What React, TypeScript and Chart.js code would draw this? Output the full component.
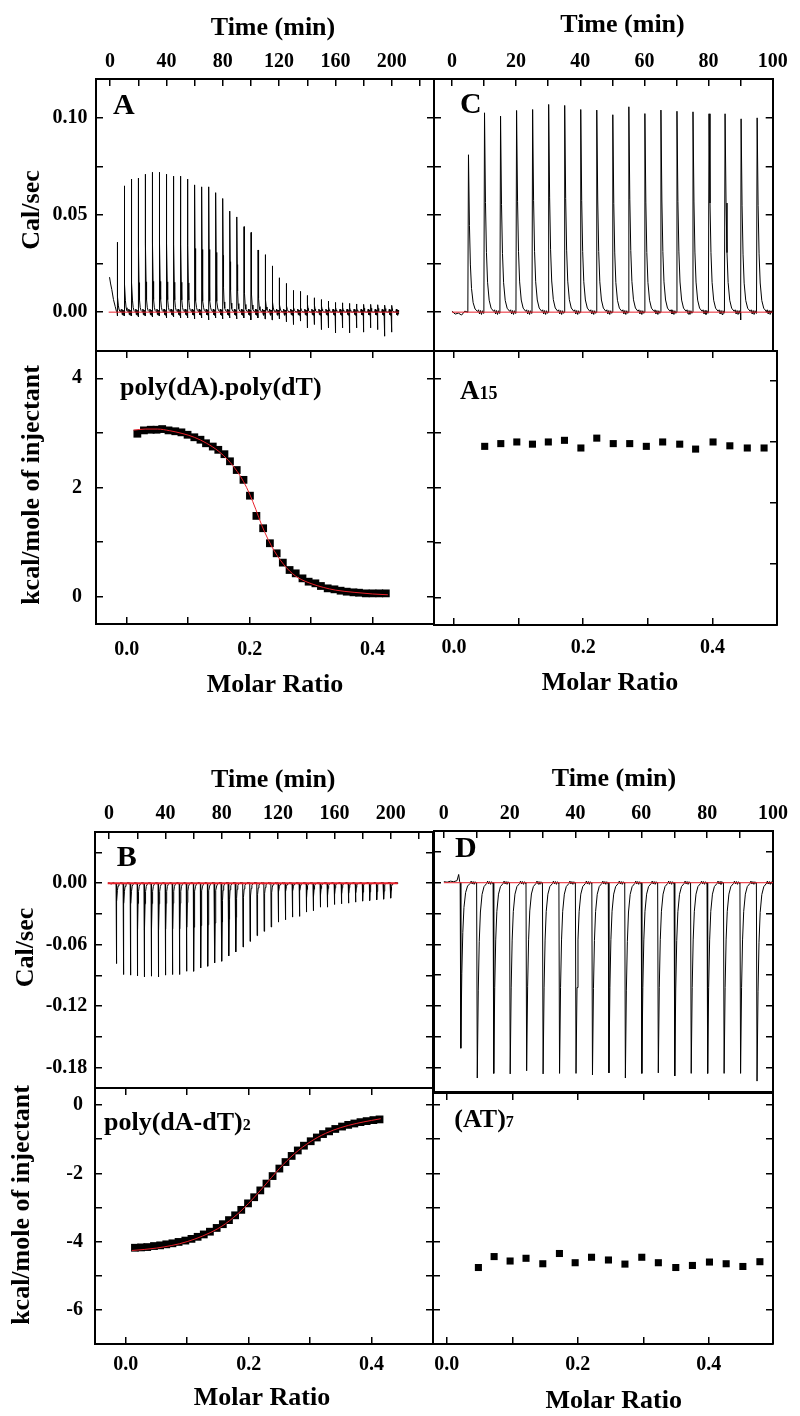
import React, { useEffect, useRef } from 'react';
import { Chart, registerables } from 'chart.js';

Chart.register(...registerables);

const FONT = '"Liberation Serif", "Times New Roman", Times, serif';
Chart.defaults.font.family = FONT;

// ---------------- Raw thermograms (upper panels) ----------------
const A_INJ_T = [5, 10, 15, 20, 25, 30, 35, 40, 45, 50, 55, 60, 65, 70, 75, 80, 85, 90, 95, 100, 105, 110, 115, 120, 125, 130, 135, 140, 145, 150, 155, 160, 165, 170, 175, 180, 185, 190, 195, 200];
const A_PEAKS = [0.036, 0.065, 0.0685, 0.069, 0.071, 0.072, 0.072, 0.071, 0.070, 0.070, 0.0685, 0.0655, 0.0645, 0.0645, 0.0615, 0.0585, 0.052, 0.049, 0.044, 0.041, 0.032, 0.0296, 0.0238, 0.0177, 0.0148, 0.0112, 0.0107, 0.0086, 0.0074, 0.0065, 0.0057, 0.005, 0.0048, 0.0045, 0.0042, 0.004, 0.004, 0.0038, 0.0036, 0.0035];
const A_DIPS = [-0.002, -0.002, -0.002, -0.0025, -0.002, -0.0025, -0.002, -0.003, -0.0025, -0.003, -0.003, -0.0035, -0.003, -0.004, -0.003, -0.0035, -0.003, -0.0035, -0.003, -0.004, -0.003, -0.0035, -0.004, -0.0035, -0.005, -0.0064, -0.0046, -0.0081, -0.0064, -0.009, -0.0081, -0.0107, -0.0081, -0.0107, -0.0081, -0.0103, -0.0081, -0.009, -0.0124, -0.0103];
const A_LEAD: [number, number][] = [[-0.4, 0.018], [0.4, 0.0145], [1.2, 0.0117], [2.4, 0.0065], [3.6, 0.003], [4.5, 0.0005]];
const A_BASE_T = [-1, 205];

const B_INJ_T = [5, 10, 15, 20, 25, 30, 35, 40, 45, 50, 55, 60, 65, 70, 75, 80, 85, 90, 95, 100, 105, 110, 115, 120, 125, 130, 135, 140, 145, 150, 155, 160, 165, 170, 175, 180, 185, 190, 195, 200];
const B_PEAKS = [-0.0785, -0.0892, -0.0898, -0.0905, -0.0915, -0.0908, -0.0915, -0.0898, -0.0892, -0.0892, -0.086, -0.086, -0.0827, -0.0811, -0.0778, -0.0762, -0.071, -0.0671, -0.0623, -0.0568, -0.0512, -0.047, -0.0428, -0.038, -0.0357, -0.0331, -0.0324, -0.0282, -0.0269, -0.0234, -0.0234, -0.0208, -0.0201, -0.0195, -0.0185, -0.0175, -0.0169, -0.0162, -0.0156, -0.0146];
const B_LEAD: [number, number][] = [[-0.5, 0.0005], [1.5, -0.0008], [3, 0.0006], [4.5, -0.0005]];
const B_BASE_T = [-1, 205];

const C_INJ_T = [5, 10, 15, 20, 25, 30, 35, 40, 45, 50, 55, 60, 65, 70, 75, 80, 85, 90, 95];
const C_PEAKS = [0.081, 0.1026, 0.1009, 0.1038, 0.1043, 0.1069, 0.1064, 0.1043, 0.104, 0.1016, 0.1057, 0.1022, 0.104, 0.1034, 0.1031, 0.1021, 0.1021, 0.0995, 0.1];
const C_DIPS = [0, 0, 0, 0, 0, 0, 0, 0, 0, 0, 0, 0, 0, 0, 0, 0, 0, -0.004, 0];
const C_LEAD: [number, number][] = [[0, 0.0005], [1, -0.001], [2, -0.0005], [3, -0.0015], [4, 0.0005]];
const C_BASE_T = [0, 100];

const D_INJ_T = [5, 10, 15, 20, 25, 30, 35, 40, 45, 50, 55, 60, 65, 70, 75, 80, 85, 90, 95];
const D_PEAKS = [-0.161, -0.190, -0.1855, -0.186, -0.183, -0.186, -0.1855, -0.1855, -0.187, -0.185, -0.19, -0.1855, -0.185, -0.188, -0.1855, -0.1855, -0.1855, -0.1855, -0.193];
const D_LEAD: [number, number][] = [[0, 0.001], [1, 0.0005], [2, 0.0015], [3, 0.001], [4, 0.002], [4.5, 0.008], [4.8, 0.001]];
const D_BASE_T = [0, 100];

// peak outlines relative to injection time (minutes, fraction of peak height)
const PEAK_SHAPE_LONG: [number, number][] = [[0.1, 1], [0.3, 0.5], [0.55, 0.22], [0.9, 0.09], [1.4, 0.035], [2.0, 0.012], [2.8, 0.003]];
const PEAK_SHAPE_SHORT: [number, number][] = [[0.15, 1], [0.45, 0.55], [0.75, 0.3], [1.1, 0.15], [1.6, 0.06], [2.2, 0.02], [3.0, 0.004]];
const NOISE_SHAPE: [number, number][] = [[3.3, 1], [3.6, -0.8], [3.9, 0.7], [4.2, -1], [4.5, 0.6], [4.8, -0.5]];

// ---------------- Integrated isotherms (lower panels) ----------------
const A_ISO_X = [0.0173, 0.028, 0.039, 0.0485, 0.0577, 0.068, 0.079, 0.089, 0.099, 0.11, 0.12, 0.129, 0.14, 0.149, 0.159, 0.168, 0.179, 0.19, 0.2005, 0.211, 0.222, 0.233, 0.244, 0.254, 0.265, 0.275, 0.286, 0.296, 0.307, 0.316, 0.327, 0.338, 0.348, 0.358, 0.369, 0.378, 0.389, 0.4, 0.411, 0.4216];
const A_ISO_Y = [2.985, 3.046, 3.058, 3.058, 3.07, 3.046, 3.03, 3.01, 2.966, 2.92, 2.875, 2.81, 2.75, 2.69, 2.61, 2.48, 2.32, 2.14, 1.85, 1.48, 1.254, 0.979, 0.795, 0.624, 0.489, 0.428, 0.336, 0.275, 0.245, 0.196, 0.153, 0.135, 0.11, 0.092, 0.08, 0.073, 0.061, 0.061, 0.061, 0.061];
const A_FIT_X = [0.011, 0.03, 0.05, 0.07, 0.09, 0.11, 0.13, 0.15, 0.165, 0.18, 0.19, 0.2, 0.21, 0.22, 0.23, 0.24, 0.25, 0.26, 0.27, 0.28, 0.3, 0.32, 0.34, 0.37, 0.4, 0.425];
const A_FIT_Y = [3.05, 3.07, 3.07, 3.04, 2.99, 2.92, 2.81, 2.66, 2.5, 2.29, 2.11, 1.88, 1.6, 1.3, 1.05, 0.84, 0.67, 0.53, 0.42, 0.34, 0.24, 0.17, 0.12, 0.08, 0.05, 0.035];

const B_ISO_X = [0.015, 0.025, 0.035, 0.046, 0.056, 0.066, 0.076, 0.086, 0.097, 0.107, 0.117, 0.127, 0.137, 0.148, 0.158, 0.168, 0.178, 0.188, 0.199, 0.209, 0.219, 0.229, 0.239, 0.25, 0.26, 0.27, 0.28, 0.29, 0.301, 0.311, 0.321, 0.331, 0.341, 0.352, 0.362, 0.372, 0.382, 0.392, 0.403, 0.413];
const B_ISO_Y = [-4.18, -4.17, -4.16, -4.13, -4.11, -4.08, -4.05, -4.01, -3.97, -3.92, -3.86, -3.79, -3.71, -3.6, -3.49, -3.37, -3.23, -3.07, -2.88, -2.7, -2.5, -2.3, -2.08, -1.86, -1.67, -1.49, -1.33, -1.19, -1.06, -0.95, -0.85, -0.77, -0.7, -0.63, -0.58, -0.54, -0.5, -0.47, -0.44, -0.42];
const B_FIT_X = [0.01, 0.05, 0.1, 0.15, 0.175, 0.2, 0.225, 0.25, 0.275, 0.3, 0.325, 0.35, 0.375, 0.4, 0.415];
const B_FIT_Y = [-4.26, -4.19, -4.0, -3.62, -3.3, -2.88, -2.38, -1.86, -1.42, -1.08, -0.83, -0.66, -0.54, -0.45, -0.4];

const C_ISO_X = [0.0475, 0.0724, 0.0972, 0.1214, 0.146, 0.171, 0.1964, 0.221, 0.2465, 0.272, 0.2977, 0.323, 0.3494, 0.374, 0.401, 0.427, 0.454, 0.48];
const C_ISO_Y = [2.76, 2.81, 2.84, 2.8, 2.84, 2.87, 2.73, 2.91, 2.81, 2.81, 2.76, 2.84, 2.8, 2.71, 2.84, 2.77, 2.73, 2.73];

const D_ISO_X = [0.0483, 0.0723, 0.0967, 0.121, 0.1466, 0.172, 0.196, 0.221, 0.2468, 0.272, 0.2977, 0.323, 0.3496, 0.375, 0.401, 0.4265, 0.452, 0.478];
const D_ISO_Y = [-4.76, -4.44, -4.57, -4.49, -4.65, -4.35, -4.62, -4.46, -4.54, -4.66, -4.46, -4.62, -4.76, -4.7, -4.6, -4.65, -4.73, -4.59];

// ---------------- Ticks ----------------
const TIME200_TICKS = [0, 20, 40, 60, 80, 100, 120, 140, 160, 180, 200, 220];
const TIME200_LABELS = ['0', '', '40', '', '80', '', '120', '', '160', '', '200', ''];
const TIME100_TICKS = [0, 10, 20, 30, 40, 50, 60, 70, 80, 90, 100];
const TIME100_LABELS = ['0', '', '20', '', '40', '', '60', '', '80', '', '100'];
const CAL_POS_TICKS = [0, 0.025, 0.05, 0.075, 0.1];
const CAL_POS_LABELS = ['0.00', '', '0.05', '', '0.10'];
const CAL_NEG_TICKS = [-0.18, -0.15, -0.12, -0.09, -0.06, -0.03, 0, 0.03];
const CAL_NEG_LABELS = ['-0.18', '', '-0.12', '', '-0.06', '', '0.00', ''];
const MR_TICKS = [0, 0.1, 0.2, 0.3, 0.4];
const MR_TICKS_EDGE = [0, 0.1, 0.2, 0.3, 0.4, 0.5];
const MR_LABELS = ['0.0', '', '0.2', '', '0.4', ''];
const KCAL_POS_TICKS = [0, 1, 2, 3, 4];
const KCAL_POS_LABELS = ['0', '', '2', '', '4'];
const KCAL_NEG_TICKS = [-6, -5, -4, -3, -2, -1, 0];
const KCAL_NEG_LABELS = ['-6', '', '-4', '', '-2', '', '0'];
const C_RIGHT_TICKS = [1, 2, 3, 4];

// ---------------- helpers ----------------
type Pt = { x: number; y: number };
const zip = (xs: number[], ys: number[]): Pt[] => xs.map((x, i) => ({ x, y: ys[i] }));

function buildTrace(times: number[], peaks: number[], dips: number[] | null, amp: number, lead: [number, number][], tEnd: number, shape: [number, number][]): Pt[] {
  const pts: Pt[] = lead.map(([x, y]) => ({ x, y }));
  times.forEach((t, i) => {
    pts.push({ x: t - 0.05, y: 0 });
    if (dips && dips[i]) pts.push({ x: t, y: dips[i] });
    shape.forEach(([dt, f]) => pts.push({ x: t + dt, y: peaks[i] * f }));
    NOISE_SHAPE.forEach(([dt, f]) => pts.push({ x: t + dt, y: amp * f }));
  });
  pts.push({ x: tEnd, y: 0 });
  return pts;
}

const TICK_FONT = { family: FONT, size: 20, weight: 'bold' as const };
const W = 800;
const H = 1416;

type AxisSpec = { min: number; max: number; ticks: number[]; labels?: string[]; pad?: number };

// size = distance from the plot edge to the canvas edge on that side
function scale(axis: 'x' | 'y', position: string, a: AxisSpec, size: number) {
  const horiz = position === 'top' || position === 'bottom';
  return {
    type: 'linear',
    axis,
    position,
    min: a.min,
    max: a.max,
    bounds: 'data',
    display: true,
    afterBuildTicks: (s: any) => {
      s.ticks = a.ticks.map((v) => ({ value: v }));
    },
    afterFit: (s: any) => {
      if (horiz) s.height = size;
      else s.width = size;
    },
    grid: { display: a.ticks.length > 0, drawOnChartArea: false, drawTicks: true, tickLength: -7, color: '#000', lineWidth: 1.5 },
    border: { display: true, color: '#000', width: 2 },
    ticks: {
      display: !!a.labels,
      autoSkip: false,
      maxRotation: 0,
      minRotation: 0,
      padding: a.pad ?? 10,
      color: '#000',
      font: TICK_FONT,
      callback: (_v: any, i: number) => (a.labels ? a.labels[i] ?? '' : ''),
    },
    title: { display: false },
  };
}

type TextItem = { x: number; y: number; parts: [string, number][]; align?: 'left' | 'center'; rot?: number };

function makeTextPlugin(items: TextItem[]) {
  return {
    id: 'panelText',
    afterDraw(chart: any) {
      const ctx = chart.ctx as CanvasRenderingContext2D;
      items.forEach((it) => {
        ctx.save();
        ctx.fillStyle = '#000';
        ctx.textBaseline = 'alphabetic';
        ctx.textAlign = 'left';
        const widths = it.parts.map(([t, s]) => {
          ctx.font = `bold ${s}px ${FONT}`;
          return ctx.measureText(t).width;
        });
        const total = widths.reduce((a, b) => a + b, 0);
        ctx.translate(it.x, it.y);
        if (it.rot) ctx.rotate((it.rot * Math.PI) / 180);
        let x = it.align === 'center' ? -total / 2 : 0;
        it.parts.forEach(([t, s], i) => {
          ctx.font = `bold ${s}px ${FONT}`;
          ctx.fillText(t, x, 0);
          x += widths[i];
        });
        ctx.restore();
      });
    },
  };
}

const traceDs = (data: Pt[]) => ({ data, showLine: true, borderColor: '#000', borderWidth: 1, pointRadius: 0, tension: 0 });
const redLine = (ts: number[], w: number) => ({ data: ts.map((x) => ({ x, y: 0 })), showLine: true, borderColor: '#e8202a', borderWidth: w, pointRadius: 0 });
const fitDs = (data: Pt[]) => ({ data, showLine: true, borderColor: '#e8202a', borderWidth: 1, pointRadius: 0, cubicInterpolationMode: 'monotone' });
const squaresDs = (data: Pt[], r: number) => ({ data, showLine: false, pointStyle: 'rect', pointRadius: r, pointBackgroundColor: '#000', pointBorderColor: '#000', pointBorderWidth: 0 });

type Panel = {
  box: [number, number, number, number];
  upper: boolean;
  x: AxisSpec;
  x2: AxisSpec;
  y: AxisSpec;
  y2: AxisSpec;
  datasets: any[];
  texts: TextItem[];
};

const PANELS: Panel[] = [
  // A upper
  {
    box: [96, 79, 434, 351],
    upper: true,
    x: { min: -10, max: 230, ticks: TIME200_TICKS, labels: TIME200_LABELS, pad: 12.3 },
    x2: { min: -10, max: 230, ticks: [] },
    y: { min: -0.02, max: 0.12, ticks: CAL_POS_TICKS, labels: CAL_POS_LABELS, pad: 15.4 },
    y2: { min: -0.02, max: 0.12, ticks: CAL_POS_TICKS },
    datasets: [redLine(A_BASE_T, 1), traceDs(buildTrace(A_INJ_T, A_PEAKS, A_DIPS, 0.0016, A_LEAD, 204.9, PEAK_SHAPE_LONG))],
    texts: [
      { x: 113, y: 114, parts: [['A', 30]] },
      { x: 273, y: 35, parts: [['Time (min)', 26]], align: 'center' },
      { x: 39.3, y: 210, parts: [['Cal/sec', 26]], align: 'center', rot: -90 },
    ],
  },
  // A lower
  {
    box: [96, 351, 434, 624],
    upper: false,
    x: { min: -0.05, max: 0.5, ticks: MR_TICKS, labels: MR_LABELS, pad: 21 },
    x2: { min: -0.05, max: 0.5, ticks: MR_TICKS },
    y: { min: -0.5, max: 4.5, ticks: KCAL_POS_TICKS, labels: KCAL_POS_LABELS, pad: 21 },
    y2: { min: -0.5, max: 4.5, ticks: KCAL_POS_TICKS },
    datasets: [fitDs(zip(A_FIT_X, A_FIT_Y)), squaresDs(zip(A_ISO_X, A_ISO_Y), 5.5)],
    texts: [
      { x: 120, y: 395, parts: [['poly(dA).poly(dT)', 26]] },
      { x: 275, y: 691.7, parts: [['Molar Ratio', 26]], align: 'center' },
      { x: 38.5, y: 485, parts: [['kcal/mole of injectant', 26]], align: 'center', rot: -90 },
    ],
  },
  // C upper
  {
    box: [434, 79, 776, 351],
    upper: true,
    x: { min: -5.6, max: 100, ticks: TIME100_TICKS, labels: TIME100_LABELS, pad: 12.3 },
    x2: { min: -5.6, max: 100, ticks: [] },
    y: { min: -0.02, max: 0.12, ticks: CAL_POS_TICKS },
    y2: { min: -0.02, max: 0.12, ticks: CAL_POS_TICKS },
    datasets: [redLine(C_BASE_T, 1), traceDs(buildTrace(C_INJ_T, C_PEAKS, C_DIPS, 0.0012, C_LEAD, 100, PEAK_SHAPE_SHORT))],
    texts: [
      { x: 460, y: 112.7, parts: [['C', 30]] },
      { x: 622.5, y: 31.7, parts: [['Time (min)', 26]], align: 'center' },
    ],
  },
  // C lower
  {
    box: [434, 351, 777, 625],
    upper: false,
    x: { min: -0.031, max: 0.5, ticks: MR_TICKS_EDGE, labels: MR_LABELS, pad: 18.3 },
    x2: { min: -0.031, max: 0.5, ticks: MR_TICKS_EDGE },
    y: { min: -0.5, max: 4.5, ticks: KCAL_POS_TICKS },
    y2: { min: 0, max: 4.48, ticks: C_RIGHT_TICKS },
    datasets: [squaresDs(zip(C_ISO_X, C_ISO_Y), 5)],
    texts: [
      { x: 460, y: 399.3, parts: [['A', 27], ['15', 18]] },
      { x: 610, y: 690, parts: [['Molar Ratio', 26]], align: 'center' },
    ],
  },
  // B upper
  {
    box: [95, 832, 433, 1088],
    upper: true,
    x: { min: -10, max: 230, ticks: TIME200_TICKS, labels: TIME200_LABELS, pad: 13.4 },
    x2: { min: -10, max: 230, ticks: [] },
    y: { min: -0.2, max: 0.05, ticks: CAL_NEG_TICKS, labels: CAL_NEG_LABELS, pad: 14.7 },
    y2: { min: -0.2, max: 0.05, ticks: CAL_NEG_TICKS },
    datasets: [redLine(B_BASE_T, 2), traceDs(buildTrace(B_INJ_T, B_PEAKS, null, 0.0008, B_LEAD, 205, PEAK_SHAPE_LONG))],
    texts: [
      { x: 116.7, y: 865.7, parts: [['B', 30]] },
      { x: 273.3, y: 786.7, parts: [['Time (min)', 26]], align: 'center' },
      { x: 33.3, y: 947.5, parts: [['Cal/sec', 26]], align: 'center', rot: -90 },
    ],
  },
  // B lower
  {
    box: [95, 1088, 433, 1344],
    upper: false,
    x: { min: -0.05, max: 0.5, ticks: MR_TICKS, labels: MR_LABELS, pad: 15.7 },
    x2: { min: -0.05, max: 0.5, ticks: MR_TICKS },
    y: { min: -7, max: 0.5, ticks: KCAL_NEG_TICKS, labels: KCAL_NEG_LABELS, pad: 19 },
    y2: { min: -7, max: 0.5, ticks: KCAL_NEG_TICKS },
    datasets: [fitDs(zip(B_FIT_X, B_FIT_Y)), squaresDs(zip(B_ISO_X, B_ISO_Y), 5.5)],
    texts: [
      { x: 104, y: 1130, parts: [['poly(dA-dT)', 26], ['2', 16]] },
      { x: 262, y: 1405, parts: [['Molar Ratio', 26]], align: 'center' },
      { x: 29.3, y: 1205, parts: [['kcal/mole of injectant', 26]], align: 'center', rot: -90 },
    ],
  },
  // D upper
  {
    box: [434, 831, 773, 1092],
    upper: true,
    x: { min: -3, max: 100, ticks: TIME100_TICKS, labels: TIME100_LABELS, pad: 12 },
    x2: { min: -3, max: 100, ticks: [] },
    y: { min: -0.2036, max: 0.0503, ticks: CAL_NEG_TICKS },
    y2: { min: -0.2036, max: 0.0503, ticks: CAL_NEG_TICKS },
    datasets: [redLine(D_BASE_T, 1), traceDs(buildTrace(D_INJ_T, D_PEAKS, null, 0.0016, D_LEAD, 100, PEAK_SHAPE_SHORT))],
    texts: [
      { x: 455, y: 857.3, parts: [['D', 30]] },
      { x: 614, y: 786, parts: [['Time (min)', 26]], align: 'center' },
    ],
  },
  // D lower
  {
    box: [433, 1093, 773, 1344],
    upper: false,
    x: { min: -0.021, max: 0.498, ticks: MR_TICKS, labels: MR_LABELS, pad: 15.7 },
    x2: { min: -0.021, max: 0.498, ticks: MR_TICKS },
    y: { min: -7, max: 0.35, ticks: KCAL_NEG_TICKS },
    y2: { min: -7, max: 0.35, ticks: KCAL_NEG_TICKS },
    datasets: [squaresDs(zip(D_ISO_X, D_ISO_Y), 5)],
    texts: [
      { x: 454.3, y: 1126.7, parts: [['(AT)', 26], ['7', 16]] },
      { x: 613.7, y: 1408.3, parts: [['Molar Ratio', 26]], align: 'center' },
    ],
  },
];

function buildConfig(p: Panel): any {
  const [l, t, r, b] = p.box;
  return {
    type: 'scatter',
    data: { datasets: p.datasets },
    options: {
      responsive: false,
      animation: false,
      devicePixelRatio: 1,
      events: [],
      layout: { padding: 0 },
      plugins: { legend: { display: false }, tooltip: { enabled: false } },
      scales: {
        x: scale('x', p.upper ? 'top' : 'bottom', p.x, p.upper ? t : H - b),
        x2: scale('x', p.upper ? 'bottom' : 'top', p.x2, p.upper ? H - b : t),
        y: scale('y', 'left', p.y, l),
        y2: scale('y', 'right', p.y2, W - r),
      },
    },
    plugins: [makeTextPlugin(p.texts)],
  };
}

export default function App() {
  const refs = useRef<(HTMLCanvasElement | null)[]>([]);
  useEffect(() => {
    const charts = PANELS.map((p, i) => new Chart(refs.current[i] as HTMLCanvasElement, buildConfig(p)));
    return () => {
      charts.forEach((c) => c.destroy());
    };
  }, []);
  return (
    <div style={{ position: 'absolute', left: 0, top: 0, width: W, height: H, background: '#fff', overflow: 'hidden' }}>
      {PANELS.map((_p, i) => (
        <canvas
          key={i}
          ref={(el) => {
            refs.current[i] = el;
          }}
          width={W}
          height={H}
          style={{ position: 'absolute', left: 0, top: 0, width: W, height: H }}
        />
      ))}
    </div>
  );
}
